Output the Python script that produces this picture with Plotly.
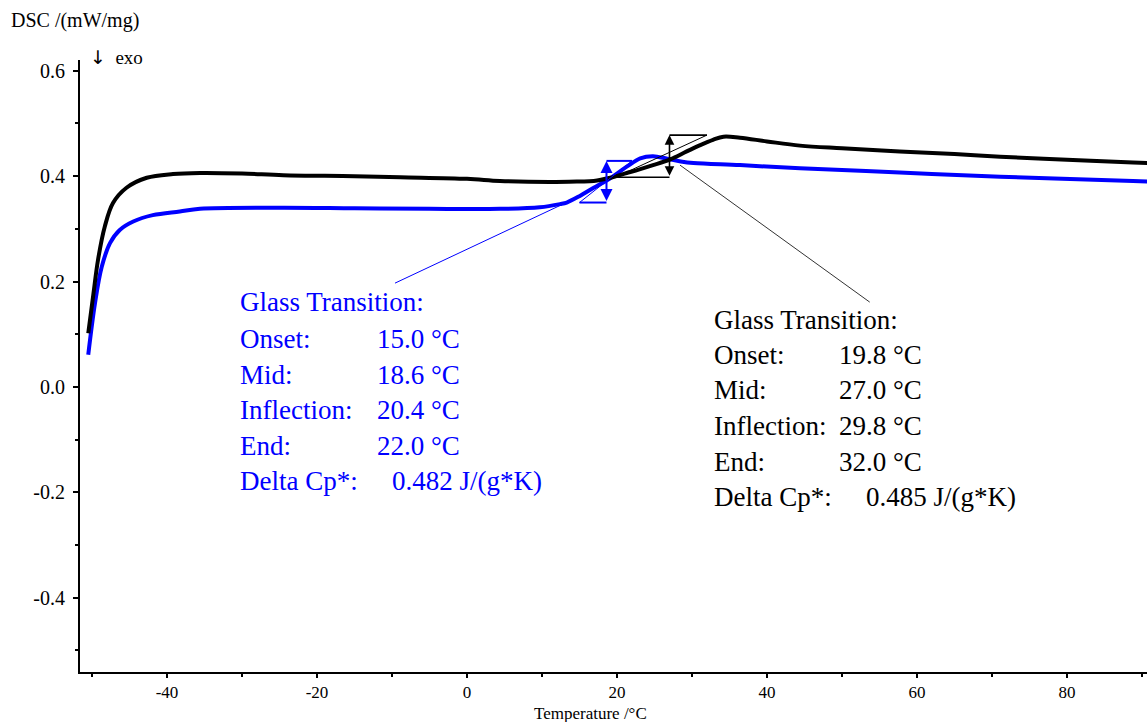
import plotly.graph_objects as go

# ---- data ----
black_T = [-50.5, -49.8, -49.2, -48.3, -47.2, -45.4, -42.7, -39.2, -35.6, -30, -24.5, -15, -8.9, 0, 4.4,
           11, 15, 16.9, 19.1, 21.3, 23, 24.8, 27.1, 29.3, 31.1, 32.8, 34.2, 36.4, 40, 44.4, 50, 57.7,
           65, 71.1, 80, 88.8, 90.7]
black_V = [0.102, 0.178, 0.241, 0.304, 0.349, 0.378, 0.397, 0.404, 0.406, 0.405, 0.402, 0.400, 0.398,
           0.395, 0.391, 0.389, 0.390, 0.391, 0.397, 0.406, 0.413, 0.421, 0.432, 0.447, 0.459, 0.469,
           0.475, 0.473, 0.466, 0.458, 0.453, 0.447, 0.442, 0.437, 0.431, 0.426, 0.425]

blue_T = [-50.5, -49.6, -48.7, -47.6, -46.3, -44.5, -41.9, -38.3, -35.6, -25, -15, -5, 4.4, 9.7, 12.4,
          13.3, 15.1, 16.9, 19.1, 21.3, 23.1, 24.8, 26.7, 28.5, 30.2, 36.4, 44.4, 57.7, 71.1, 88.8, 90.7]
blue_V = [0.061, 0.159, 0.228, 0.273, 0.298, 0.314, 0.326, 0.333, 0.338, 0.340, 0.339, 0.338, 0.338,
          0.341, 0.347, 0.350, 0.363, 0.378, 0.396, 0.418, 0.434, 0.438, 0.433, 0.428, 0.425, 0.421,
          0.415, 0.407, 0.399, 0.391, 0.390]

# glass transition evaluations: onset, mid, inflection, end, low level, high level
blue_gt = dict(onset=15.0, mid=18.6, inflection=20.4, end=22.0, low=0.350, high=0.429, dcp=0.482)
black_gt = dict(onset=19.8, mid=27.0, inflection=29.8, end=32.0, low=0.398, high=0.478, dcp=0.485)

x_ticks = [-40, -20, 0, 20, 40, 60, 80]
x_ticktext = ["-40", "-20", "0", "20", "40", "60", "80"]
y_ticks = [-0.4, -0.2, 0.0, 0.2, 0.4, 0.6]
y_ticktext = ["-0.4", "-0.2", "0.0", "0.2", "0.4", "0.6"]

BLUE = "#0000ff"
SERIF = "Liberation Serif, Times New Roman, serif"
TXT = 27

fig = go.Figure()

fig.add_trace(go.Scatter(x=blue_T, y=blue_V, mode="lines", line=dict(color=BLUE, width=4, shape="spline"),
                         showlegend=False))
fig.add_trace(go.Scatter(x=black_T, y=black_V, mode="lines", line=dict(color="black", width=4, shape="spline"),
                         showlegend=False))


def add_construction(gt, color, width):
    fig.add_trace(go.Scatter(x=[gt["onset"], gt["mid"]], y=[gt["low"], gt["low"]], mode="lines",
                             line=dict(color=color, width=width), showlegend=False))
    fig.add_trace(go.Scatter(x=[gt["mid"], gt["end"]], y=[gt["high"], gt["high"]], mode="lines",
                             line=dict(color=color, width=width), showlegend=False))
    fig.add_trace(go.Scatter(x=[gt["onset"], gt["end"]], y=[gt["low"], gt["high"]], mode="lines",
                             line=dict(color=color, width=1), showlegend=False))
    fig.add_annotation(x=gt["mid"], y=gt["high"], ax=gt["mid"], ay=gt["low"], xref="x", yref="y",
                       axref="x", ayref="y", text="", showarrow=True, arrowhead=2, arrowside="end+start",
                       arrowsize=1.2, arrowwidth=width, arrowcolor=color)


add_construction(blue_gt, BLUE, 2)
add_construction(black_gt, "black", 1.6)

# leader lines
fig.add_trace(go.Scatter(x=[-9.6, 13.1], y=[0.197, 0.349], mode="lines", line=dict(color=BLUE, width=1),
                         showlegend=False))
fig.add_trace(go.Scatter(x=[28.4, 53.7], y=[0.421, 0.161], mode="lines", line=dict(color="#333333", width=1),
                         showlegend=False))


def add_block(gt, color, xl, xv, xd, rows):
    labels = ["Glass Transition:", "Onset:", "Mid:", "Inflection:", "End:", "Delta Cp*:"]
    values = [None, f"{gt['onset']:.1f} °C", f"{gt['mid']:.1f} °C", f"{gt['inflection']:.1f} °C",
              f"{gt['end']:.1f} °C", f"{gt['dcp']:.3f} J/(g*K)"]
    for i, (lab, val) in enumerate(zip(labels, values)):
        fig.add_annotation(x=xl, y=rows[i], xref="x", yref="y", text=lab, showarrow=False, xanchor="left",
                           yanchor="middle", font=dict(family=SERIF, size=TXT, color=color))
        if val:
            fig.add_annotation(x=xd if i == 5 else xv, y=rows[i], xref="x", yref="y", text=val,
                               showarrow=False, xanchor="left", yanchor="middle",
                               font=dict(family=SERIF, size=TXT, color=color))


add_block(blue_gt, BLUE, -30.6, -12.2, -10.2, [0.161, 0.091, 0.023, -0.044, -0.112, -0.178])
add_block(black_gt, "black", 32.7, 49.3, 52.9, [0.127, 0.061, -0.006, -0.074, -0.142, -0.209])

# axis titles
fig.add_annotation(xref="paper", yref="paper", x=-71 / 1067, y=(672 - 20) / 612, text="DSC /(mW/mg)",
                   showarrow=False, xanchor="left", yanchor="middle", font=dict(family=SERIF, size=20, color="black"))
fig.add_annotation(xref="paper", yref="paper", x=8 / 1067, y=(672 - 57) / 612,
                   text="<span style='font-family:DejaVu Sans'>↓</span>  exo",
                   showarrow=False, xanchor="left", yanchor="middle", font=dict(family=SERIF, size=19, color="black"))
fig.add_annotation(xref="paper", yref="paper", x=(590 - 80) / 1067, y=(672 - 724) / 612, text="Temperature /°C",
                   showarrow=False, xanchor="center", yanchor="bottom", borderpad=0,
                   font=dict(family=SERIF, size=17, color="black"))

fig.update_layout(
    width=1147, height=722,
    margin=dict(l=80, r=0, t=60, b=50),
    paper_bgcolor="white", plot_bgcolor="white",
    xaxis=dict(range=[-51.6, 90.67], tickvals=x_ticks, ticktext=x_ticktext, ticks="outside", ticklen=4,
               tickwidth=2, tickcolor="black", showline=True, linecolor="black", linewidth=2, showgrid=False,
               zeroline=False, tickfont=dict(family=SERIF, size=17, color="black"), ticklabelstandoff=0,
               minor=dict(tickvals=[-50, -30, -10, 10, 30, 50, 70, 90], ticks="outside", ticklen=3,
                          tickwidth=2, tickcolor="black")),
    yaxis=dict(range=[-0.541, 0.6205], tickvals=y_ticks, ticktext=y_ticktext,
               ticks="outside", ticklen=5, tickwidth=2, tickcolor="black", showline=True, linecolor="black",
               linewidth=2, showgrid=False, zeroline=False, tickfont=dict(family=SERIF, size=20, color="black"),
               ticklabelstandoff=4,
               minor=dict(tickvals=[-0.5, -0.3, -0.1, 0.1, 0.3, 0.5], ticks="outside", ticklen=3, tickwidth=2,
                          tickcolor="black")),
)

fig.write_html("out.html")
